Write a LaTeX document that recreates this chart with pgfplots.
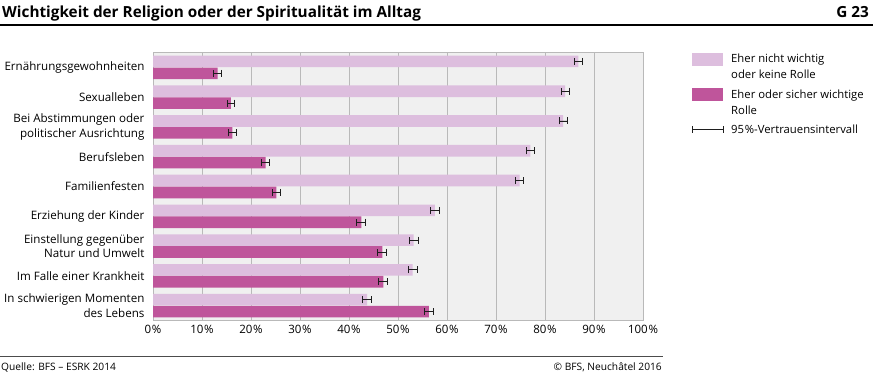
\documentclass[border=0pt]{standalone}
\usepackage{fontspec}
\setmainfont{Open Sans}
\usepackage{pgfplots}
\pgfplotsset{compat=1.18}
\usepackage{pgfplotstable}
\definecolor{lightc}{RGB}{221,190,222}
\definecolor{darkc}{RGB}{191,85,155}
\definecolor{gridc}{RGB}{185,185,185}
\definecolor{bgc}{RGB}{240,240,240}
\definecolor{errc}{RGB}{30,30,30}

% light = Eher nicht wichtig oder keine Rolle
\pgfplotstableread{
pos v e
-0.2 86.8 0.8
0.8 84.1 0.8
1.8 83.7 0.8
2.8 77.0 0.8
3.8 74.8 0.8
4.8 57.5 0.9
5.8 53.2 0.9
6.8 53.0 0.9
7.8 43.7 0.9
}\lighttab
% dark = Eher oder sicher wichtige Rolle
\pgfplotstableread{
pos v e
0.2 13.2 0.8
1.2 15.9 0.8
2.2 16.2 0.8
3.2 23.0 0.8
4.2 25.2 0.8
5.2 42.5 0.9
6.2 46.8 0.9
7.2 47.0 0.9
8.2 56.3 0.9
}\darktab

\begin{document}
\begin{tikzpicture}[x=1pt,y=1pt]
\useasboundingbox (0,0) rectangle (873,-373);
% title
\node[anchor=base west, inner sep=0pt, font=\fontsize{15.3}{18}\selectfont\bfseries] at (2,-17.5) {Wichtigkeit der Religion oder der Spiritualität im Alltag};
\node[anchor=base east, inner sep=0pt, font=\fontsize{15.3}{18}\selectfont\bfseries] at (869,-17.5) {G 23};
\draw[line width=1.4pt] (0,-25) -- (873,-25);

\begin{axis}[
  at={(153pt,-52.5pt)}, anchor=north west,
  scale only axis, width=490pt, height=268pt,
  xmin=0, xmax=100, ymin=-0.5, ymax=8.5, y dir=reverse,
  xtick={0,10,...,100},
  xticklabel={\pgfmathprintnumber{\tick}\kern0.8pt\%},
  ytick={0,1,...,8},
  yticklabels={Ernährungsgewohnheiten, Sexualleben, {Bei Abstimmungen oder\\politischer Ausrichtung}, Berufsleben, Familienfesten, Erziehung der Kinder, {Einstellung gegenüber\\Natur und Umwelt}, Im Falle einer Krankheit, {In schwierigen Momenten\\des Lebens}},
  yticklabel style={align=right, font=\fontsize{11.6}{14.5}\selectfont, xshift=-5pt},
  xticklabel style={font=\fontsize{11.5}{13}\selectfont, yshift=-1pt},
  major tick length=0pt,
  xmajorgrids, grid style={draw=gridc, line width=0.8pt},
  axis line style={draw=gridc, line width=0.8pt},
  axis background/.style={fill=bgc},
  /pgf/number format/assume math mode=true,
]
\addplot[xbar, bar shift=0pt, bar width=0.39, fill=lightc, draw=none,
  error bars/.cd, x dir=both, x explicit, error mark=|,
  error bar style={errc, line width=0.9pt},
  error mark options={errc, line width=0.9pt, mark size=3.5pt}]
  table[x=v, y=pos, x error=e] {\lighttab};
\addplot[xbar, bar shift=0pt, bar width=0.39, fill=darkc, draw=none,
  error bars/.cd, x dir=both, x explicit, error mark=|,
  error bar style={errc, line width=0.9pt},
  error mark options={errc, line width=0.9pt, mark size=3.5pt}]
  table[x=v, y=pos, x error=e] {\darktab};
\end{axis}

% legend
\fill[lightc] (692,-53) rectangle (723,-66);
\node[anchor=base west, inner sep=0pt, font=\fontsize{11.3}{13}\selectfont] at (731,-62.5) {Eher nicht wichtig};
\node[anchor=base west, inner sep=0pt, font=\fontsize{11.3}{13}\selectfont] at (731,-78) {oder keine Rolle};
\fill[darkc] (692,-88) rectangle (723,-101);
\node[anchor=base west, inner sep=0pt, font=\fontsize{11.3}{13}\selectfont] at (731,-98) {Eher oder sicher wichtige};
\node[anchor=base west, inner sep=0pt, font=\fontsize{11.3}{13}\selectfont] at (731,-114) {Rolle};
\draw[errc, line width=0.9pt] (692,-129.5) -- (723,-129.5);
\draw[errc, line width=0.9pt] (692,-126) -- (692,-133);
\draw[errc, line width=0.9pt] (723,-126) -- (723,-133);
\node[anchor=base west, inner sep=0pt, font=\fontsize{11.3}{13}\selectfont] at (731,-133.5) {95\kern0.8pt\%-Vertrauensintervall};

% footer
\draw[line width=0.9pt, black!70] (0,-356) -- (663,-356);
\node[anchor=base west, inner sep=0pt, font=\fontsize{10.2}{12}\selectfont] at (1,-370) {Quelle: BFS – ESRK 2014};
\node[anchor=base east, inner sep=0pt, font=\fontsize{10.2}{12}\selectfont] at (662,-370) {© BFS, Neuchâtel 2016};
\end{tikzpicture}
\end{document}
